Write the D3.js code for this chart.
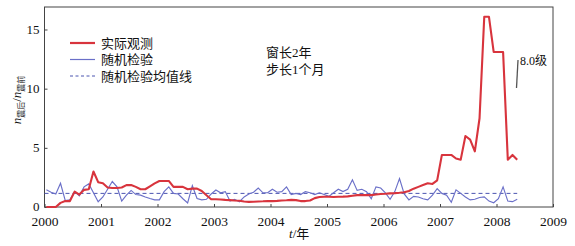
<!DOCTYPE html>
<html lang="zh">
<head>
  <meta charset="UTF-8">
  <title>实际观测与随机检验</title>
  <style>
    * { margin: 0; padding: 0; box-sizing: border-box; }
    body { background: #fff; width: 575px; height: 246px; overflow: hidden; }
    svg text { font-family: "Liberation Serif", "Noto Sans CJK SC", serif; fill: #111; }
  </style>
</head>
<body>
  <div id="chart"></div>

  <script src="https://d3js.org/d3.v7.min.js"></script>
  <script>
    // monthly samples, first point ~2000.03, step 1 month
    const startYear = 2000;
    const monthOffset = 0.4;

    const observed = [
      0, 0, 0, 0.35, 0.5, 0.5, 1.3, 1.05, 1.45, 1.5,
      3.0, 2.1, 2.0, 1.65, 1.6, 1.6, 1.65, 1.85, 1.85, 1.7,
      1.5, 1.5, 1.75, 2.0, 2.2, 2.2, 2.2, 1.7, 1.7, 1.7,
      1.5, 1.55, 1.55, 1.35, 1.0, 0.65, 0.65, 0.63, 0.6, 0.58,
      0.55, 0.53, 0.47, 0.43, 0.45, 0.47, 0.48, 0.5, 0.5, 0.52,
      0.55, 0.57, 0.6, 0.58, 0.5, 0.5, 0.55, 0.75, 0.85, 0.87,
      0.86, 0.85, 0.87, 0.88, 0.9, 0.95, 1.0, 1.0, 1.0, 1.0,
      1.05, 1.1, 1.12, 1.15, 1.17, 1.2, 1.25, 1.35, 1.55, 1.7,
      1.85, 2.0, 1.95, 2.25, 4.4, 4.4, 4.4, 4.1, 4.0, 6.0,
      5.7, 4.7, 7.5, 16.07, 16.07, 13.1, 13.1, 13.1, 4.0, 4.4,
      4.0
    ];

    const randomTest = [
      1.45, 1.25, 1.1, 2.0, 0.55, 0.6, 1.3, 0.95, 1.7, 1.95,
      1.2, 0.45, 0.85, 1.5, 2.15, 1.7, 0.5, 1.0, 1.4, 1.05,
      1.0, 0.85, 0.72, 0.6, 0.6, 1.3, 1.7, 1.15, 1.1, 0.7,
      0.35, 1.8, 0.72, 0.6, 0.65, 1.1, 1.44, 1.2, 1.3, 0.5,
      0.65, 0.45, 0.85, 1.1, 1.25, 1.6, 1.2, 1.2, 1.5, 1.25,
      1.3, 1.7, 1.05, 1.15, 1.05, 1.3, 1.2, 1.05, 1.2, 1.05,
      0.9, 1.2, 1.5, 1.3, 1.5, 2.3, 1.4, 1.5, 1.3, 0.7,
      1.7, 1.6, 1.2, 0.65, 1.3, 2.4, 1.1, 0.6, 0.9, 0.85,
      0.7, 0.6, 1.0, 1.55, 1.15, 1.0, 0.4, 1.45, 1.15, 0.85,
      0.6, 0.65, 0.8, 0.85, 0.5, 0.36, 0.7, 1.7, 0.5, 0.45,
      0.65
    ];

    const randomMean = 1.15;

    const xTicks = [2000, 2001, 2002, 2003, 2004, 2005, 2006, 2007, 2008, 2009];
    const yTicks = [0, 5, 10, 15];
    const legendLabels = ["实际观测", "随机检验", "随机检验均值线"];

    const width = 575, height = 246;
    const margin = { left: 44.5, right: 22, top: 7, bottom: 39 };

    const svg = d3.select("#chart").append("svg")
      .attr("width", width)
      .attr("height", height);

    const x = d3.scaleLinear().domain([2000, 2009]).range([margin.left, width - margin.right]);
    const y = d3.scaleLinear().domain([0, 16.9]).range([height - margin.bottom, margin.top]);

    const tOf = i => startYear + (i + monthOffset) / 12;

    // frame
    svg.append("rect")
      .attr("x", x(2000)).attr("y", y(16.9))
      .attr("width", x(2009) - x(2000))
      .attr("height", y(0) - y(16.9))
      .attr("fill", "none")
      .attr("stroke", "#444")
      .attr("stroke-width", 1);

    // axes, ticks pointing inside
    const xAxis = svg.append("g")
      .attr("transform", `translate(0,${y(0)})`)
      .call(d3.axisBottom(x).tickValues(xTicks).tickFormat(d3.format("d"))
        .tickSizeInner(-3).tickSizeOuter(0).tickPadding(9));
    xAxis.select(".domain").remove();
    xAxis.selectAll("line").attr("stroke", "#444");
    xAxis.selectAll("text").attr("font-size", 13.5).attr("fill", "#111");

    const yAxis = svg.append("g")
      .attr("transform", `translate(${x(2000)},0)`)
      .call(d3.axisLeft(y).tickValues(yTicks).tickSizeInner(-3).tickSizeOuter(0).tickPadding(5));
    yAxis.select(".domain").remove();
    yAxis.selectAll("line").attr("stroke", "#444");
    yAxis.selectAll("text").attr("font-size", 13).attr("fill", "#111").attr("dy", "0.3em");

    const line = d3.line()
      .x((d, i) => x(tOf(i)))
      .y(d => y(d));

    // mean line
    svg.append("line")
      .attr("x1", x(2000)).attr("x2", x(tOf(randomTest.length - 1)))
      .attr("y1", y(randomMean)).attr("y2", y(randomMean))
      .attr("stroke", "#4a54b0")
      .attr("stroke-width", 1)
      .attr("stroke-dasharray", "4,3");

    svg.append("path")
      .datum(randomTest)
      .attr("fill", "none")
      .attr("stroke", "#6a6fc8")
      .attr("stroke-width", 1.15)
      .attr("d", line);

    svg.append("path")
      .datum(observed)
      .attr("fill", "none")
      .attr("stroke", "#d8343d")
      .attr("stroke-width", 2.1)
      .attr("stroke-linejoin", "round")
      .attr("d", line);

    // legend
    const legendStyles = [
      { stroke: "#d8343d", w: 2.2, dash: null },
      { stroke: "#6a6fc8", w: 1.2, dash: null },
      { stroke: "#4a54b0", w: 1, dash: "3,2.5" }
    ];
    const legend = svg.append("g");
    legendLabels.forEach((lab, i) => {
      const ly = 43 + i * 16.5;
      legend.append("line")
        .attr("x1", 70).attr("x2", 95).attr("y1", ly).attr("y2", ly)
        .attr("stroke", legendStyles[i].stroke)
        .attr("stroke-width", legendStyles[i].w)
        .attr("stroke-dasharray", legendStyles[i].dash);
      legend.append("text")
        .attr("x", 101).attr("y", ly)
        .attr("dominant-baseline", "central")
        .attr("font-size", 13)
        .text(lab);
    });

    // annotation
    svg.append("text").attr("x", 266).attr("y", 52)
      .attr("dominant-baseline", "central").attr("font-size", 13).text("窗长2年");
    svg.append("text").attr("x", 266).attr("y", 69)
      .attr("dominant-baseline", "central").attr("font-size", 13).text("步长1个月");

    svg.append("line")
      .attr("x1", 518).attr("y1", 60).attr("x2", 516.5).attr("y2", 88)
      .attr("stroke", "#555").attr("stroke-width", 1.3);
    svg.append("text").attr("x", 520).attr("y", 61)
      .attr("dominant-baseline", "central").attr("font-size", 12).text("8.0级");

    // axis titles
    const xt = svg.append("text").attr("x", 289).attr("y", 238).attr("font-size", 13);
    xt.append("tspan").attr("font-style", "italic").text("t");
    xt.append("tspan").text("/年");

    const yt = svg.append("text")
      .attr("transform", "translate(21,100) rotate(-90)")
      .attr("text-anchor", "middle")
      .attr("font-size", 13);
    yt.append("tspan").attr("font-style", "italic").text("n");
    yt.append("tspan").attr("font-size", 8).attr("dy", 3).text("震后");
    yt.append("tspan").attr("dy", -3).text("/");
    yt.append("tspan").attr("font-style", "italic").text("n");
    yt.append("tspan").attr("font-size", 8).attr("dy", 3).text("震前");
  </script>
</body>
</html>
